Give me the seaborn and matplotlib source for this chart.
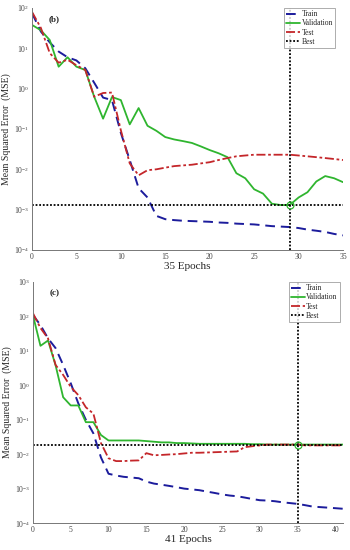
import matplotlib
matplotlib.use("Agg")
import matplotlib.pyplot as plt
import numpy as np
import seaborn as sns

sns.set_theme(style="white")
plt.rcParams["font.family"] = ["Liberation Serif", "DejaVu Serif"]
plt.rcParams["mathtext.fontset"] = "stix"

# panel (b): 35 epochs
b_epochs = list(range(36))
b_train = [75, 26, 14, 8.3, 6, 5, 3.2, 1.4, 0.6, 0.52, 0.08, 0.017, 0.0034, 0.002,
           7e-4, 5.8e-4, 5.5e-4, 5.3e-4, 5.2e-4, 5.1e-4, 5e-4, 4.8e-4, 4.7e-4, 4.5e-4,
           4.4e-4, 4.3e-4, 4.1e-4, 3.9e-4, 3.8e-4, 3.7e-4, 3.5e-4, 3.2e-4, 3e-4, 2.8e-4,
           2.5e-4, 2.3e-4]
b_val = [38, 28, 16, 3.5, 6, 3.5, 2.9, 0.63, 0.18, 0.62, 0.52, 0.13, 0.33, 0.12, 0.09,
         0.063, 0.055, 0.05, 0.045, 0.037, 0.03, 0.025, 0.02, 0.008, 0.006, 0.0032,
         0.0025, 0.0014, 0.0013, 0.0013, 0.002, 0.0027, 0.005, 0.0068, 0.006, 0.0048]
b_test = [80, 32, 7.6, 4.4, 5.2, 3.8, 2.9, 0.63, 0.78, 0.8, 0.093, 0.014, 0.0071, 0.0095,
          0.01, 0.011, 0.012, 0.0125, 0.013, 0.014, 0.015, 0.017, 0.019, 0.021, 0.022,
          0.023, 0.023, 0.023, 0.023, 0.023, 0.022, 0.021, 0.02, 0.019, 0.018, 0.017]
b_best = (29, 0.0013)

# panel (c): 41 epochs
c_epochs = list(range(42))
c_train = [110, 56, 23, 12, 3.9, 1.15, 0.3, 0.1, 0.04, 0.008, 0.0027, 0.0024, 0.0022,
           0.0021, 0.002, 0.0016, 0.0014, 0.0013, 0.0012, 0.0011, 0.001, 9.5e-4, 9e-4,
           8.2e-4, 7.5e-4, 6.8e-4, 6.3e-4, 6e-4, 5.5e-4, 5e-4, 4.6e-4, 4.5e-4, 4.3e-4,
           4e-4, 3.8e-4, 3.6e-4, 3.3e-4, 3e-4, 2.9e-4, 2.8e-4, 2.7e-4, 2.6e-4]
c_val = [110, 14, 20, 3.8, 0.45, 0.26, 0.26, 0.085, 0.085, 0.036, 0.025, 0.025, 0.025,
         0.025, 0.025, 0.024, 0.023, 0.022, 0.022, 0.021, 0.021, 0.0205, 0.02, 0.02,
         0.02, 0.02, 0.02, 0.02, 0.02, 0.0195, 0.0195, 0.019, 0.019, 0.019, 0.019, 0.019,
         0.019, 0.019, 0.019, 0.019, 0.019, 0.019]
c_test = [125, 46, 23, 3.9, 2.0, 0.9, 0.52, 0.23, 0.15, 0.021, 0.0076, 0.0063, 0.0063,
          0.0065, 0.0066, 0.0107, 0.0093, 0.0095, 0.0098, 0.01, 0.0105, 0.011, 0.011,
          0.0112, 0.0114, 0.0116, 0.0118, 0.012, 0.016, 0.017, 0.018, 0.019, 0.019,
          0.019, 0.019, 0.019, 0.018, 0.018, 0.018, 0.018, 0.018, 0.018]
c_best = (35, 0.018)

BLUE = "#1c1c9c"
GREEN = "#2fb52f"
RED = "#c4262a"


def draw_panel(ax, epochs, train, val, test, best, n, label, ymin, ymax, legend_x):
    sns.lineplot(x=epochs, y=train, ax=ax, color=BLUE, linestyle=(0, (5, 3)), lw=1.4, label="Train")
    sns.lineplot(x=epochs, y=val, ax=ax, color=GREEN, lw=1.3, label="Validation")
    sns.lineplot(x=epochs, y=test, ax=ax, color=RED, linestyle=(0, (5, 1.5, 1.5, 1.5)), lw=1.3, label="Test")
    ax.axvline(best[0], color="black", linestyle=(0, (1, 1)), lw=1.3, label="Best")
    ax.axhline(best[1], color="black", linestyle=(0, (1, 1)), lw=1.3)
    ax.plot(best[0], best[1], "o", ms=5, mfc="none", mec=GREEN, mew=0.9)
    ax.set_yscale("log")
    ax.set_ylim(ymin, ymax)
    ax.set_xlim(0, n)
    ax.set_xticks(range(0, n + 1, 5))
    ax.set_yticks([10.0 ** k for k in range(int(np.log10(ymin)), int(np.log10(ymax)) + 1)])
    ax.minorticks_off()
    ax.tick_params(direction="in", length=2, labelsize=5.5, colors="#444444", pad=2)
    for s in ["top", "right"]:
        ax.spines[s].set_visible(False)
    for s in ["left", "bottom"]:
        ax.spines[s].set_color("#777777")
        ax.spines[s].set_linewidth(0.7)
    ax.set_xlabel(f"{n} Epochs", fontsize=8, labelpad=1)
    ax.set_ylabel("Mean Squared Error  (MSE)", fontsize=7, labelpad=2)
    ax.text(0.055, 0.955, label, transform=ax.transAxes, fontsize=6.5, fontweight="bold",
            ha="left", va="center")
    leg = ax.legend(loc="upper right", bbox_to_anchor=(legend_x, 1.0), fontsize=5.5,
                    frameon=True, fancybox=False, handlelength=1.8, handletextpad=0.2,
                    borderpad=0.3, labelspacing=0.15, borderaxespad=0)
    leg.get_frame().set_edgecolor("#888888")
    leg.get_frame().set_linewidth(0.6)


fig = plt.figure(figsize=(3.5, 5.5), dpi=100)
ax_b = fig.add_axes([0.0914, 0.5455, 0.8886, 0.44])
ax_c = fig.add_axes([0.094, 0.049, 0.886, 0.4383])

draw_panel(ax_b, b_epochs, b_train, b_val, b_test, b_best, 35, "(b)", 1e-4, 1e2, 0.975)
draw_panel(ax_c, c_epochs, c_train, c_val, c_test, c_best, 41, "(c)", 1e-4, 1e3, 0.99)

fig.savefig("out.png", dpi=100)
